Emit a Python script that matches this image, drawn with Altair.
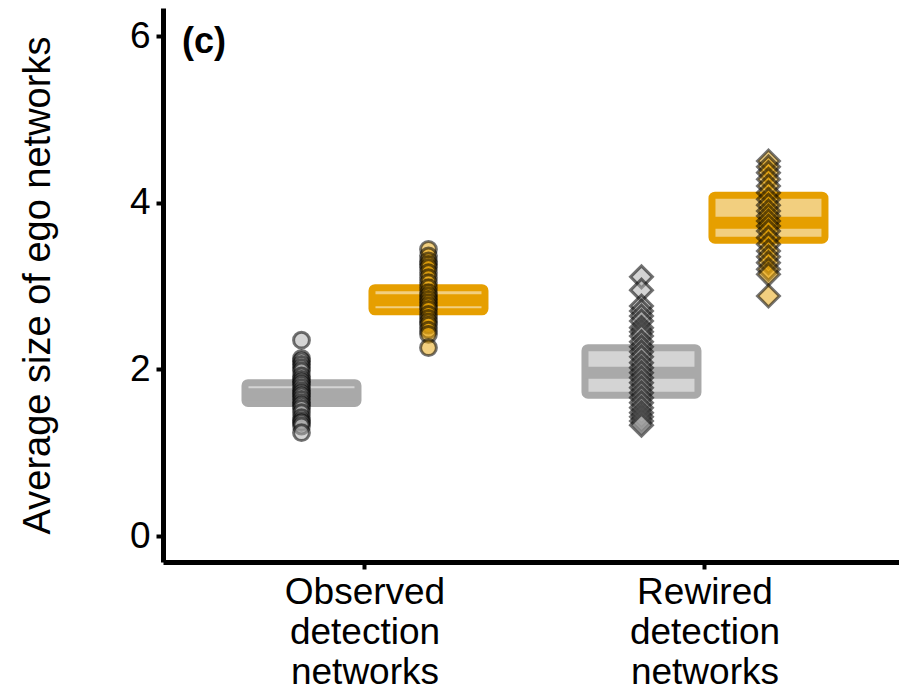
import altair as alt
import pandas as pd

# ---- data ----
networks = ["Observed detection networks", "Rewired detection networks"]
sets = ["Set 1", "Set 2"]
colors = ["#A9A9A9", "#E69F00"]

# summary boxes (lower, upper, mean) per network x set
box_network = ["Observed detection networks", "Observed detection networks",
               "Rewired detection networks", "Rewired detection networks"]
box_set = ["Set 1", "Set 2", "Set 1", "Set 2"]
box_lo = [1.59, 2.69, 1.69, 3.55]
box_hi = [1.84, 2.98, 2.26, 4.09]
box_mean = [1.70, 2.83, 1.96, 3.76]

# individual values
obs_set1 = [2.35, 2.13, 2.10, 2.06, 2.02, 1.98, 1.92, 1.88, 1.85, 1.82, 1.78,
            1.74, 1.71, 1.68, 1.64, 1.60, 1.57, 1.53, 1.48, 1.42, 1.38, 1.36,
            1.32, 1.24]
obs_set2 = [3.44, 3.36, 3.30, 3.26, 3.22, 3.16, 3.10, 3.04, 2.98, 2.92, 2.88,
            2.84, 2.80, 2.76, 2.72, 2.66, 2.61, 2.57, 2.53, 2.47, 2.42, 2.26]
rew_set1 = [3.11, 2.95, 2.76, 2.70, 2.64, 2.58, 2.50, 2.45, 2.40, 2.33, 2.27,
            2.21, 2.15, 2.08, 2.02, 1.96, 1.90, 1.84, 1.78, 1.72, 1.66, 1.60,
            1.54, 1.48, 1.43, 1.38, 1.33]
rew_set2 = [4.50, 4.43, 4.36, 4.28, 4.20, 4.12, 4.04, 3.97, 3.90, 3.84, 3.78,
            3.72, 3.66, 3.58, 3.50, 3.42, 3.35, 3.28, 3.20, 3.14, 2.88]

y_ticks = [0, 2, 4, 6]
y_title = "Average size of ego networks"
panel_label = "(c)"

# ---- tables ----
boxes = pd.DataFrame({"network": box_network, "set": box_set,
                      "lo": box_lo, "hi": box_hi, "mean": box_mean})

rows = []
for net, st, vals in [(networks[0], sets[0], obs_set1), (networks[0], sets[1], obs_set2),
                      (networks[1], sets[0], rew_set1), (networks[1], sets[1], rew_set2)]:
    for v in vals:
        rows.append({"network": net, "set": st, "value": v})
pts = pd.DataFrame(rows)

FONT = "Liberation Sans"

x_enc = alt.X("network:N", sort=networks, title=None,
              scale=alt.Scale(domain=networks, paddingInner=0, paddingOuter=0.0824, align=0.571),
              axis=alt.Axis(labelAngle=0, labelExpr="split(datum.label, ' ')",
                            labelLineHeight=40, labelPadding=5, labelBaseline="top",
                            tickSize=7, tickWidth=4))
xo_enc = alt.XOffset("set:N", sort=sets,
                     scale=alt.Scale(domain=sets, paddingInner=0, paddingOuter=0.3386))
color_scale = alt.Scale(domain=sets, range=colors)


def y_enc(field):
    return alt.Y(field, type="quantitative", title=y_title,
                 scale=alt.Scale(domain=[-0.312, 6.336], nice=False, zero=False),
                 axis=alt.Axis(values=y_ticks, grid=False, tickSize=7, tickWidth=4,
                               labelPadding=6, titlePadding=72, titleFontSize=38))


box_layer = alt.Chart(boxes).mark_bar(width=113, strokeWidth=7, fillOpacity=0.5,
                                      opacity=1, cornerRadius=3).encode(
    x=x_enc, xOffset=xo_enc, y=y_enc("lo"), y2="hi",
    fill=alt.Fill("set:N", scale=color_scale, legend=None),
    stroke=alt.Stroke("set:N", scale=color_scale, legend=None),
)

mean_layer = alt.Chart(boxes).mark_tick(size=113, thickness=12, opacity=1).encode(
    x=x_enc, xOffset=xo_enc, y=y_enc("mean"),
    color=alt.Color("set:N", scale=color_scale, legend=None),
)

circ = alt.Chart(pts).transform_filter(
    alt.datum.network == networks[0]
).mark_point(shape="circle", filled=True, size=250, opacity=1, fillOpacity=0.5,
             stroke="black", strokeOpacity=0.55, strokeWidth=3).encode(
    x=x_enc, xOffset=xo_enc, y=y_enc("value"),
    fill=alt.Fill("set:N", scale=color_scale, legend=None),
)

diam = alt.Chart(pts).transform_filter(
    alt.datum.network == networks[1]
).mark_point(shape="diamond", filled=True, size=480, opacity=1, fillOpacity=0.5,
             stroke="black", strokeOpacity=0.55, strokeWidth=3).encode(
    x=x_enc, xOffset=xo_enc, y=y_enc("value"),
    fill=alt.Fill("set:N", scale=color_scale, legend=None),
)

label = alt.Chart(pd.DataFrame({"t": [panel_label]})).mark_text(
    font=FONT, fontSize=36, fontWeight="bold", align="left", baseline="middle", color="black"
).encode(x=alt.value(19), y=alt.value(34), text="t:N")

chart = alt.layer(box_layer, mean_layer, circ, diam, label).properties(
    width=736, height=554,
    autosize=alt.AutoSizeParams(type="none"),
    padding={"left": 163, "top": 8, "right": 0, "bottom": 128},
    background="white",
).configure_view(stroke=None).configure_axis(
    domainColor="black", domainWidth=5, tickColor="black",
    labelFont=FONT, labelFontSize=37, labelColor="black",
    titleFont=FONT, titleFontSize=38, titleFontWeight="normal", titleColor="black",
)

chart.save("out.html", embed_options={"renderer": "svg", "actions": False})
